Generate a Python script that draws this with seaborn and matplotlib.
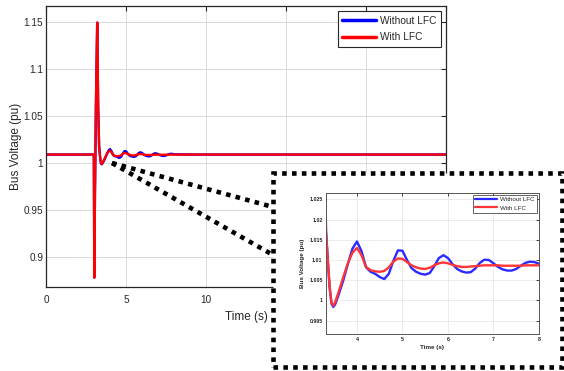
import numpy as np
import pandas as pd
import matplotlib
matplotlib.use("Agg")
import matplotlib.pyplot as plt
from matplotlib.patches import Rectangle
from matplotlib.lines import Line2D
import seaborn as sns

# ---------------- data ----------------
time_s = [0.0, 2.99, 3.02, 3.06, 3.12, 3.2, 3.26, 3.32, 3.36, 3.40, 3.44, 3.48, 3.52,
          3.6, 3.7, 3.8, 3.9, 4.0, 4.1, 4.2, 4.3, 4.4, 4.5, 4.6, 4.7, 4.8, 4.9, 5.0,
          5.1, 5.2, 5.3, 5.4, 5.5, 5.6, 5.7, 5.8, 5.9, 6.0, 6.1, 6.2, 6.3, 6.4, 6.5,
          6.6, 6.7, 6.8, 6.9, 7.0, 7.1, 7.2, 7.3, 7.4, 7.5, 7.6, 7.7, 7.8, 7.9, 8.0,
          9.0, 25.0]

v_without_lfc = [1.0088, 1.0088, 0.878, 0.966, 1.06, 1.149, 1.06, 1.0172, 1.0100, 1.0030,
                 0.9992, 0.9984, 0.9990,
                 1.0015, 1.0050, 1.0090, 1.0128, 1.0146, 1.0122, 1.0082, 1.0071, 1.0066,
                 1.0058, 1.0053, 1.0066, 1.0098, 1.0124, 1.0123,
                 1.0100, 1.0080, 1.0071, 1.0066, 1.0064, 1.0068, 1.0085, 1.0105, 1.0112,
                 1.0105, 1.0090, 1.0078, 1.0072, 1.0069, 1.0070,
                 1.0079, 1.0093, 1.0101, 1.0100, 1.0092, 1.0083, 1.0077, 1.0074, 1.0074,
                 1.0078, 1.0086, 1.0093, 1.0096, 1.0095, 1.0091,
                 1.0088, 1.0088]

v_with_lfc = [1.0088, 1.0088, 0.878, 0.970, 1.06, 1.149, 1.06, 1.0172, 1.0100, 1.0035,
              0.9995, 0.9987, 0.9995,
              1.0022, 1.0058, 1.0092, 1.0118, 1.0130, 1.0112, 1.0083, 1.0075, 1.0072,
              1.0071, 1.0073, 1.0082, 1.0096, 1.0104, 1.0103,
              1.0095, 1.0087, 1.0082, 1.0079, 1.0078, 1.0081, 1.0087, 1.0092, 1.0094,
              1.0092, 1.0088, 1.0085, 1.0083, 1.0083, 1.0084,
              1.0085, 1.0086, 1.0087, 1.0087, 1.0087, 1.0087, 1.0086, 1.0086, 1.0086,
              1.0086, 1.0086, 1.0087, 1.0087, 1.0087, 1.0087,
              1.0088, 1.0088]

cases = ["Without LFC", "With LFC"]
main_xticks = [0, 5, 10, 15, 20, 25]
main_yticks = [0.9, 0.95, 1.0, 1.05, 1.1, 1.15]
main_yticklabels = ["0.9", "0.95", "1", "1.05", "1.1", "1.15"]
inset_xticks = [4, 5, 6, 7, 8]
inset_yticks = [0.995, 1.0, 1.005, 1.01, 1.015, 1.02, 1.025]
inset_yticklabels = ["0.995", "1", "1.005", "1.01", "1.015", "1.02", "1.025"]

df = pd.DataFrame({
    "Time": time_s * 2,
    "Voltage": v_without_lfc + v_with_lfc,
    "Case": [cases[0]] * len(time_s) + [cases[1]] * len(time_s),
})

# ---------------- style ----------------
sns.set_style("white")
plt.rcParams["font.family"] = ["Liberation Sans", "DejaVu Sans"]
dark = "#262626"

fig = plt.figure(figsize=(5.64, 3.71), dpi=100)

# ---------------- main axes ----------------
ax = fig.add_axes([46 / 564, 1 - 287 / 371, 400 / 564, 281 / 371])
sns.lineplot(data=df, x="Time", y="Voltage", hue="Case", hue_order=cases,
             palette={"Without LFC": "#0000ff", "With LFC": "#ff0000"},
             lw=1.7, estimator=None, sort=False, ax=ax)
ax.set_xlim(0, 25)
ax.set_ylim(0.868, 1.1667)
ax.set_xticks(main_xticks)
ax.set_xticklabels([str(t) for t in main_xticks])
ax.set_yticks(main_yticks)
ax.set_yticklabels(main_yticklabels)
ax.grid(True, color="#dadada", lw=0.7)
ax.tick_params(direction="in", length=3.5, width=0.8, colors=dark, labelsize=7.2,
               top=True, right=True)
ax.tick_params(axis="x", pad=6)
ax.tick_params(axis="y", pad=2)
for s in ax.spines.values():
    s.set_color(dark)
    s.set_linewidth(0.9)
ax.set_xlabel("Time (s)", fontsize=8.5, color=dark, labelpad=4)
ax.set_ylabel("Bus Voltage (pu)", fontsize=8.5, color=dark, labelpad=1.5)
h, l = ax.get_legend_handles_labels()
leg = ax.legend(h, l, loc="upper right", fontsize=7.3, handlelength=3.3,
                frameon=True, fancybox=False, framealpha=1, edgecolor=dark,
                borderaxespad=0.5, handletextpad=0.4, borderpad=0.45, labelspacing=0.65)
leg.get_frame().set_linewidth(0.8)
for line in leg.get_lines():
    line.set_linewidth(2.5)
for t in leg.get_texts():
    t.set_color(dark)

# ---------------- zoom connector lines & inset frame ----------------
def fx(px):
    return px / 564

def fy(py):
    return 1 - py / 371

dots = (0, (1, 1.15))
for end_y in (207, 255):
    fig.add_artist(Line2D([fx(112), fx(273)], [fy(163), fy(end_y)], color="black",
                          lw=3.3, linestyle=dots, solid_capstyle="butt",
                          dash_capstyle="butt", transform=fig.transFigure, zorder=4))

frame = Rectangle((fx(273), fy(367)), fx(562) - fx(273), fy(173) - fy(367),
                  transform=fig.transFigure, facecolor="white", edgecolor="black",
                  lw=3.3, linestyle=dots, zorder=5)
fig.add_artist(frame)

# ---------------- inset axes ----------------
axi = fig.add_axes([326 / 564, 1 - 334 / 371, 213 / 564, 141 / 371])
axi.set_zorder(6)
sns.lineplot(data=df, x="Time", y="Voltage", hue="Case", hue_order=cases,
             palette={"Without LFC": "#2a2aff", "With LFC": "#ff3535"},
             lw=1.7, estimator=None, sort=False, ax=axi)
for ln in axi.get_lines():
    ln.set_solid_joinstyle("round")
axi.set_xlim(3.32, 8)
axi.set_ylim(0.9917, 1.0266)
axi.set_xticks(inset_xticks)
axi.set_xticklabels([str(t) for t in inset_xticks])
axi.set_yticks(inset_yticks)
axi.set_yticklabels(inset_yticklabels)
axi.grid(True, color="#e4e4e4", lw=0.5)
axi.tick_params(direction="in", length=2, width=0.6, colors=dark, labelsize=3.8,
                top=True, right=True, pad=2.5)
for lab in axi.get_xticklabels() + axi.get_yticklabels():
    lab.set_fontweight("bold")
for s in axi.spines.values():
    s.set_color("#555555")
    s.set_linewidth(0.7)
axi.set_xlabel("Time (s)", fontsize=4.5, color=dark, fontweight="bold", labelpad=2)
axi.set_ylabel("Bus Voltage (pu)", fontsize=4.5, color=dark, fontweight="bold", labelpad=3)
hi, li = axi.get_legend_handles_labels()
legi = axi.legend(hi, li, loc="upper right", fontsize=4.5, handlelength=3.6,
                  frameon=True, fancybox=False, framealpha=1, edgecolor=dark,
                  borderaxespad=0.3, handletextpad=0.5, borderpad=0.35, labelspacing=0.45)
legi.get_frame().set_linewidth(0.5)
for line in legi.get_lines():
    line.set_linewidth(1.6)

fig.savefig("out.png", dpi=100)
